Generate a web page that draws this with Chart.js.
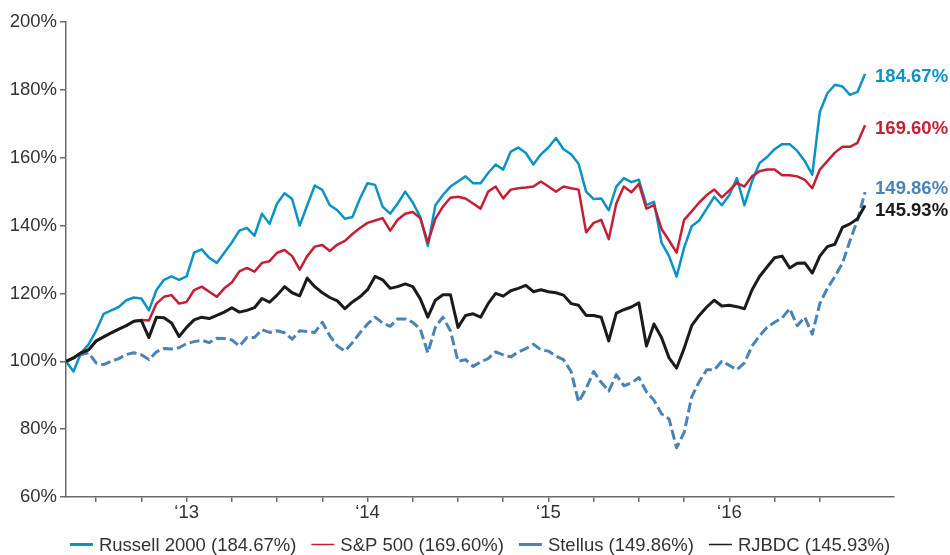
<!DOCTYPE html>
<html>
<head>
<meta charset="utf-8">
<script src="https://cdn.jsdelivr.net/npm/chart.js@4.4.0/dist/chart.umd.min.js"></script>
<style>html,body{margin:0;padding:0;background:#fff;}canvas{display:block;}</style>
</head>
<body>
<canvas id="c" width="950" height="555"></canvas>
<script>
// ---- categories (semi-monthly observation dates) ----
const dates = [
 '2012-05-01','2012-05-16','2012-06-01','2012-06-16','2012-07-01','2012-07-16','2012-08-01','2012-08-16','2012-09-01','2012-09-16',
 '2012-10-01','2012-10-16','2012-11-01','2012-11-16','2012-12-01','2012-12-16',
 '2013-01-01','2013-01-16','2013-02-01','2013-02-16','2013-03-01','2013-03-16','2013-04-01','2013-04-16','2013-05-01','2013-05-16',
 '2013-06-01','2013-06-16','2013-07-01','2013-07-16','2013-08-01','2013-08-16','2013-09-01','2013-09-16','2013-10-01','2013-10-16',
 '2013-11-01','2013-11-16','2013-12-01','2013-12-16',
 '2014-01-01','2014-01-16','2014-02-01','2014-02-16','2014-03-01','2014-03-16','2014-04-01','2014-04-16','2014-05-01','2014-05-16',
 '2014-06-01','2014-06-16','2014-07-01','2014-07-16','2014-08-01','2014-08-16','2014-09-01','2014-09-16','2014-10-01','2014-10-16',
 '2014-11-01','2014-11-16','2014-12-01','2014-12-16',
 '2015-01-01','2015-01-16','2015-02-01','2015-02-16','2015-03-01','2015-03-16','2015-04-01','2015-04-16','2015-05-01','2015-05-16',
 '2015-06-01','2015-06-16','2015-07-01','2015-07-16','2015-08-01','2015-08-16','2015-09-01','2015-09-16','2015-10-01','2015-10-16',
 '2015-11-01','2015-11-16','2015-12-01','2015-12-16',
 '2016-01-01','2016-01-16','2016-02-01','2016-02-16','2016-03-01','2016-03-16','2016-04-01','2016-04-16','2016-05-01','2016-05-16',
 '2016-06-01','2016-06-16','2016-07-01','2016-07-16','2016-08-01','2016-08-16','2016-09-01','2016-09-16','2016-10-01'
];

// ---- series values (% of initial) ----
const russell2000 = [
 100, 97, 102.5, 105, 109, 114, 115, 116, 118, 118.8,
 118.5, 115, 121, 124, 125, 124, 125, 132, 133, 130.5,
 129, 132, 135, 138.5, 139.3, 137, 143.5, 140.5, 146.5, 149.5,
 147.8, 140, 146, 151.8, 150.5, 146, 144.5, 142, 142.5, 148,
 152.5, 152, 145.6, 143.5, 146.5, 150, 146.8, 142.5, 134, 146,
 149, 151.5, 153, 154.5, 152.5, 152.5, 155.5, 158, 156.5, 161.8,
 163, 161.4, 158, 161, 163, 165.8, 162.5, 161, 158.2, 150,
 147.8, 148, 144.5, 151.5, 154, 152.8, 153.5, 146, 147, 135,
 131, 125, 133.5, 139.8, 141.5, 145, 148.5, 146, 149, 154,
 146, 153, 158.4, 160.2, 162.5, 164, 164, 162, 159, 155,
 173.5, 179, 181.5, 181, 178.5, 179.4, 184.67
];
const sp500 = [
 100, 101, 102.5, 103.4, 106, 107.2, 108.4, 109.5, 110.5, 111.8,
 112.2, 112, 117, 119, 119.5, 117, 117.5, 121, 122, 120.5,
 119, 121.5, 123.2, 126.5, 127.5, 126.4, 129, 129.5, 132, 132.8,
 131, 127, 131, 133.8, 134.3, 132.5, 134.4, 135.5, 137.5, 139.3,
 140.8, 141.5, 142.2, 138.5, 141.7, 143.5, 144, 142.2, 135, 142,
 145.6, 148.2, 148.5, 148, 146.5, 145, 150, 151.5, 148, 150.6,
 151, 151.2, 151.5, 153, 151.5, 150, 151.5, 151, 150.6, 138,
 140.8, 141.7, 136, 146.5, 151.5, 149.8, 152.3, 145, 146, 139,
 135.6, 132, 141.7, 144.2, 146.8, 149, 150.6, 148.3, 150.4, 152.6,
 151.5, 154.5, 156, 156.5, 156.5, 154.8, 154.8, 154.5, 153.5, 151,
 156.5, 159, 161.5, 163.2, 163.2, 164.4, 169.60
];
const stellus = [
 100, 101, 102, 102.5, 99.5, 99, 100, 100.8, 102, 102.5,
 101.9, 100.5, 102.8, 103.8, 103.6, 104, 105.2, 105.8, 106.2, 105.5,
 106.8, 106.7, 106.3, 104.5, 107, 107, 109.3, 108.5, 109, 108.4,
 106.5, 109, 108.8, 108.5, 111.5, 107.5, 104.5, 103, 105.5, 108.4,
 111, 113, 111.3, 110.3, 112.5, 112.5, 111.5, 109.5, 102.5, 110,
 113, 109, 100, 100.5, 98.5, 99.8, 100.8, 102.8, 101.9, 101.3,
 102.7, 103.7, 105, 103.4, 103, 101.5, 100.5, 97, 88, 92,
 97, 93.8, 91.2, 96, 92.8, 93.6, 95.2, 91, 88.5, 84.5,
 83, 74.5, 79, 89.5, 94, 97.5, 97.5, 100, 98.8, 97.5,
 99.5, 104.5, 107.5, 110, 111.5, 112.8, 115.5, 110.5, 113, 108,
 117, 121.5, 125, 128.9, 135.5, 141.7, 149.86
];
const rjbdc = [
 100, 101, 102.5, 103.4, 106, 107.2, 108.4, 109.5, 110.5, 111.8,
 112, 107, 113, 112.8, 111.3, 107.3, 110, 112.2, 113, 112.6,
 113.5, 114.5, 115.8, 114.5, 115, 115.8, 118.5, 117.4, 119.5, 122,
 120.2, 119.3, 124.5, 122, 120.2, 118.8, 117.8, 115.5, 117.5, 119,
 121.1, 125, 124, 121.5, 122, 122.8, 122, 118.4, 113, 118,
 119.6, 119.6, 110, 113.5, 114, 113, 117, 120, 119.2, 120.8,
 121.5, 122.4, 120.5, 121.1, 120.5, 120.2, 119.5, 117, 116.5, 113.5,
 113.5, 113, 106, 114.2, 115.2, 116, 117.2, 104.5, 111, 107,
 101, 98, 103.8, 110.5, 113.5, 116, 118, 116.3, 116.5, 116.1,
 115.5, 121, 125, 127.8, 130.5, 131, 127.5, 128.9, 129, 126,
 131, 133.8, 134.5, 139.5, 140.5, 142, 145.93
];

// ---- names & tick labels ----
const seriesNames = ['Russell 2000', 'S&P 500', 'Stellus', 'RJBDC'];
const yTickValues = [60, 80, 100, 120, 140, 160, 180, 200];
const yearTickYears = [2013, 2014, 2015, 2016];
const yearTickLabels = ['\u201813', '\u201814', '\u201815', '\u201816'];

// ---- styles ----
const COLORS = ['#0b93c5', '#c41f35', '#4a84b6', '#1b1b1b'];
const FONT = '"Liberation Sans", Arial, Helvetica, sans-serif';
Chart.defaults.font.family = FONT;

function toYear(s) {
  const [y, m, d] = s.split('-').map(Number);
  return y + (m - 1 + (d - 1) / 30) / 12;
}
const xs = dates.map(toYear);
const X_MIN = toYear('2012-05-01');
const X_MAX = 2016.91;
const LAST_TICK = 2016.5;

const allSeries = [russell2000, sp500, stellus, rjbdc];
function pts(arr) { return arr.map((v, i) => ({ x: xs[i], y: v })); }

const lineWidths = [2.5, 2.5, 3, 3];
const drawOrder = [2, 1, 3, 0];
const datasets = allSeries.map((arr, i) => ({
  label: seriesNames[i] + ' (' + arr[arr.length - 1].toFixed(2) + '%)',
  data: pts(arr),
  borderColor: COLORS[i],
  backgroundColor: COLORS[i],
  borderWidth: lineWidths[i],
  borderDash: i === 2 ? [10, 4] : [],
  borderJoinStyle: 'round',
  pointRadius: 0,
  tension: 0,
  order: drawOrder[i]
}));

// End-of-line value labels
const endLabelOffsets = [1, 2, -5, 3.5];
const endLabels = {
  id: 'endLabels',
  afterDatasetsDraw(chart) {
    const ctx = chart.ctx;
    ctx.save();
    ctx.font = 'bold 18.5px ' + FONT;
    ctx.textBaseline = 'alphabetic';
    ctx.textAlign = 'left';
    chart.data.datasets.forEach((ds, i) => {
      const meta = chart.getDatasetMeta(i);
      const p = meta.data[meta.data.length - 1];
      const arr = allSeries[i];
      ctx.fillStyle = COLORS[i];
      ctx.fillText(arr[arr.length - 1].toFixed(2) + '%', p.x + 10, p.y + endLabelOffsets[i] + 6.6);
    });
    ctx.restore();
  }
};

// Bottom legend with short line markers
const markerHeights = [3, 1.5, 3, 1.5];
const bottomLegend = {
  id: 'bottomLegend',
  afterDraw(chart) {
    const ctx = chart.ctx;
    ctx.save();
    ctx.font = '18.5px ' + FONT;
    const markerW = 23, gap = 6, itemGap = 15, yc = 544.5;
    const labels = chart.data.datasets.map(d => d.label);
    const widths = labels.map(t => markerW + gap + ctx.measureText(t).width);
    const total = widths.reduce((a, b) => a + b, 0) + itemGap * (labels.length - 1);
    let x = 480 - total / 2;
    labels.forEach((t, i) => {
      ctx.fillStyle = COLORS[i];
      ctx.fillRect(x, yc - markerHeights[i] / 2, markerW, markerHeights[i]);
      ctx.fillStyle = '#333';
      ctx.textBaseline = 'alphabetic';
      ctx.fillText(t, x + markerW + gap, yc + 6.6);
      x += widths[i] + itemGap;
    });
    ctx.restore();
  }
};

new Chart(document.getElementById('c'), {
  type: 'line',
  data: { datasets },
  options: {
    responsive: false,
    animation: false,
    devicePixelRatio: 1,
    layout: { padding: { top: 22, right: 56, bottom: 25, left: 0 } },
    plugins: { legend: { display: false }, tooltip: { enabled: false } },
    scales: {
      x: {
        type: 'linear',
        min: X_MIN,
        max: X_MAX,
        afterFit(s) { s.height = 33; },
        afterBuildTicks(s) {
          s.ticks = s.ticks.filter(t => t.value > X_MIN + 1e-6 && t.value <= LAST_TICK + 1e-6);
        },
        ticks: {
          stepSize: 0.25,
          includeBounds: false,
          autoSkip: false,
          maxRotation: 0,
          padding: 0,
          color: '#333',
          font: { size: 18.5 },
          callback(v) {
            const idx = yearTickYears.findIndex(y => Math.abs(y - v) < 1e-6);
            return idx >= 0 ? yearTickLabels[idx] : '';
          }
        },
        grid: { drawOnChartArea: false, drawTicks: true, tickLength: 5, color: '#6a6a6a', lineWidth: 1.5 },
        border: { display: true, color: '#6a6a6a', width: 1.5 }
      },
      y: {
        min: yTickValues[0],
        max: yTickValues[yTickValues.length - 1],
        afterFit(s) { s.width = 66; },
        afterBuildTicks(s) { s.ticks = yTickValues.map(v => ({ value: v })); },
        ticks: {
          padding: 3,
          color: '#333',
          font: { size: 18.5 },
          callback(v) { return v + '%'; }
        },
        grid: { drawOnChartArea: false, drawTicks: true, tickLength: 6, color: '#6a6a6a', lineWidth: 1.5 },
        border: { display: true, color: '#6a6a6a', width: 1.5 }
      }
    }
  },
  plugins: [endLabels, bottomLegend]
});
</script>
</body>
</html>
